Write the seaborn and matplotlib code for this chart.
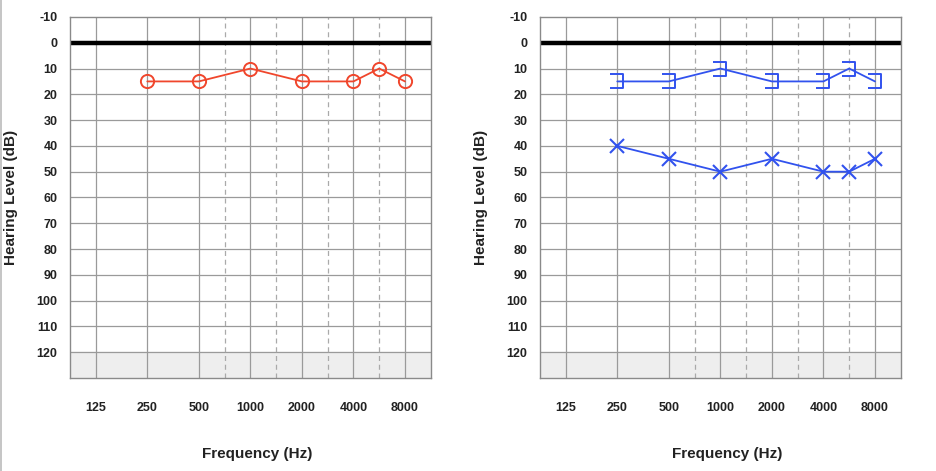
import numpy as np
import seaborn as sns
import matplotlib.pyplot as plt
from matplotlib.path import Path
from matplotlib.lines import Line2D

# audiogram values (dB HL)
freqs = [250, 500, 1000, 2000, 4000, 6000, 8000]
right_air = [15, 15, 10, 15, 15, 10, 15]
left_bone_masked = [15, 15, 10, 15, 15, 10, 15]
left_air = [40, 45, 50, 45, 50, 50, 45]

octave_ticks = [125, 250, 500, 1000, 2000, 4000, 8000]
octave_labels = ['125', '250', '500', '1000', '2000', '4000', '8000']
half_octaves = [750, 1500, 3000, 6000]
db_ticks = list(range(-10, 130, 10))

red = '#f0462c'
blue = '#3152ee'

sns.set_theme(style='white')
plt.rcParams['font.family'] = ['Liberation Sans', 'DejaVu Sans']

# audiogram frequency axis: octaves equally spaced, half-octaves in the middle
knot_freqs = [62.5, 125, 250, 500, 750, 1000, 1500, 2000, 3000, 4000, 6000, 8000, 16000]
knot_pos = [-1, 0, 1, 2, 2.5, 3, 3.5, 4, 4.5, 5, 5.5, 6, 7]
knot_log = np.log2(knot_freqs)


def freq_to_pos(x):
    x = np.maximum(np.asarray(x, dtype=float), 1e-9)
    return np.interp(np.log2(x), knot_log, knot_pos, left=-1, right=7)


def pos_to_freq(p):
    return 2 ** np.interp(p, knot_pos, knot_log)


# "]" shaped marker for masked bone conduction
bracket = Path([(-1.0, 1.0), (0.9, 1.0), (0.9, -1.0), (-1.0, -1.0)],
               [Path.MOVETO, Path.LINETO, Path.LINETO, Path.LINETO])

fig = plt.figure(figsize=(9.37, 4.71), dpi=100)
ax_r = fig.add_axes([0.0747, 0.1975, 0.385, 0.7665])
ax_l = fig.add_axes([0.5763, 0.1975, 0.385, 0.7665])


def setup_audiogram(ax):
    ax.set_xscale('function', functions=(freq_to_pos, pos_to_freq))
    ax.set_xlim(pos_to_freq(-0.5), pos_to_freq(6.5))
    ax.set_ylim(130, -10)
    ax.axhspan(120, 130, color='#eeeeee', zorder=0)
    for d in db_ticks[1:]:
        ax.axhline(d, color='#9a9a9a', lw=0.9, zorder=1)
    for f in octave_ticks:
        ax.axvline(f, color='#9a9a9a', lw=0.9, zorder=1)
    for f in half_octaves:
        ax.axvline(f, color='#aaaaaa', lw=0.9, ls=(0, (4, 3)), zorder=1)
    ax.axhline(0, color='black', lw=3.2, zorder=2)
    ax.set_xticks(octave_ticks)
    ax.set_xticklabels(octave_labels)
    ax.xaxis.set_minor_locator(plt.NullLocator())
    ax.set_yticks(db_ticks)
    ax.set_yticklabels([str(d) for d in db_ticks])
    ax.tick_params(axis='both', length=0, labelsize=9, colors='#222222')
    ax.tick_params(axis='x', pad=17)
    ax.tick_params(axis='y', pad=9)
    for lab in ax.get_xticklabels() + ax.get_yticklabels():
        lab.set_fontweight('bold')
    for sp in ax.spines.values():
        sp.set_color('#8a8a8a')
        sp.set_linewidth(1.0)
    ax.set_xlabel('Frequency (Hz)', fontsize=11, fontweight='bold', color='#222222')
    ax.set_ylabel('Hearing Level (dB)', fontsize=11, fontweight='bold', color='#222222')
    ax.xaxis.set_label_coords(0.52, -0.19)
    ax.yaxis.set_label_coords(-0.143, 0.5)


setup_audiogram(ax_r)
setup_audiogram(ax_l)

sns.lineplot(x=freqs, y=right_air, ax=ax_r, color=red, lw=1.3,
             marker='o', markersize=9.5, markerfacecolor='none',
             markeredgecolor=red, markeredgewidth=1.4, zorder=3)

sns.lineplot(x=freqs, y=left_bone_masked, ax=ax_l, color=blue, lw=1.3,
             marker=bracket, markersize=9.5, markerfacecolor='none',
             markeredgecolor=blue, markeredgewidth=1.4, zorder=3)
sns.lineplot(x=freqs, y=left_air, ax=ax_l, color=blue, lw=1.3,
             marker='x', markersize=10, markeredgecolor=blue,
             markeredgewidth=1.5, zorder=3)

# thin frame line at left edge of the figure
fig.add_artist(Line2D([0.001, 0.001], [0, 1], transform=fig.transFigure,
                      color='#bbbbbb', lw=1.2))

fig.savefig('out.png', dpi=100)
